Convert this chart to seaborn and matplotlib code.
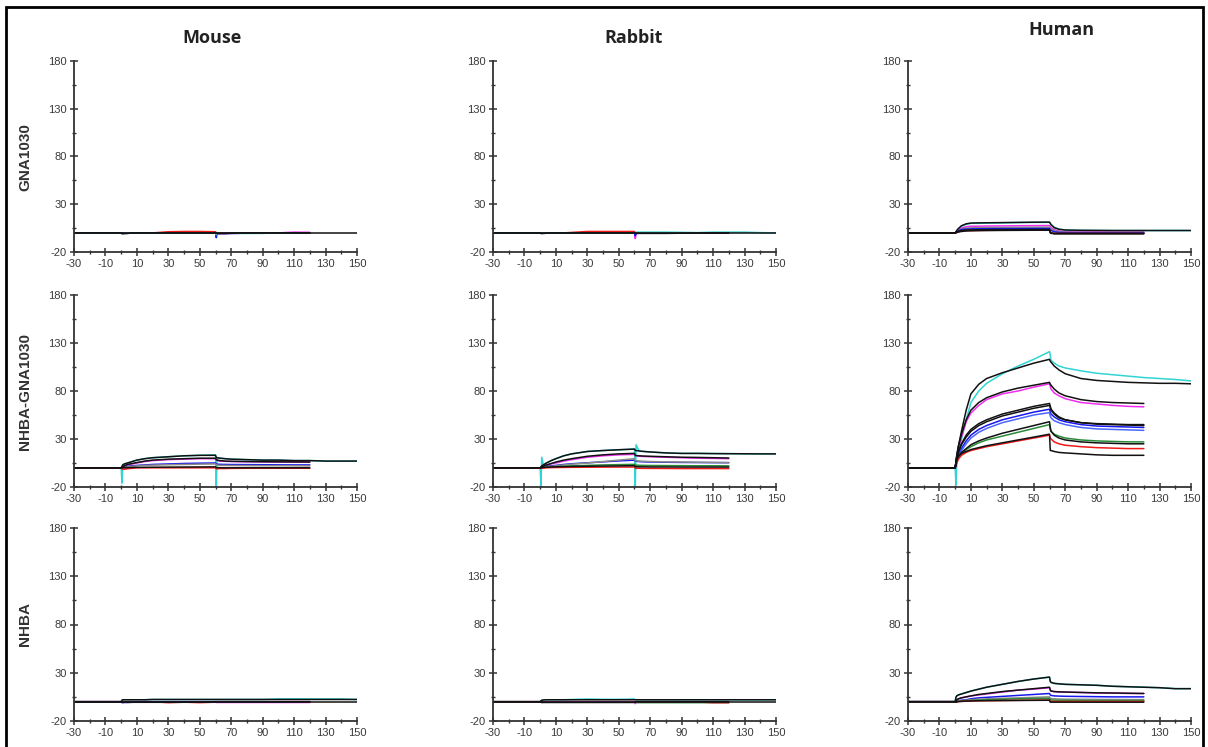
import matplotlib
matplotlib.use('Agg')
import matplotlib.pyplot as plt
from matplotlib.patches import Rectangle
import pandas as pd
import seaborn as sns

# time grid (s) shared by all sensorgrams; long curves run on to 150 s
T_SHORT = [-30, 0, 0.5, 1, 2, 4, 7, 10, 15, 20, 30, 40, 50, 60, 60.5, 61, 63, 66, 70, 80, 90, 100, 110, 120]
T_LONG = T_SHORT + [130, 140, 150]

SPECIES = ['Mouse', 'Rabbit', 'Human']
ANALYTES = ['GNA1030', 'NHBA-GNA1030', 'NHBA']

# --- GNA1030 row ---
mouse_gna = {
    'red': [0, 0, 0, 0, 0, 0, 0, 0, 0, 0, 1.2, 1.5, 1.5, 1.2, 0, 0, 0, 0, 0, 0, 0, 0, 0, 0],
    'blue': [0, 0, 0, 0, 0, 0, 0, 0, 0, 0, 0, 0, 0, 0, -5, -1, -0.6, -0.6, -0.3, 0, 0, 0, 0, 0],
    'magenta': [0, 0, 0, 0, 0, 0, 0, 0, 0, 0, 0, 0, 0, -0.3, -1, -1, -1, -1, -0.8, 0, 0, 0, 0.8, 0.6],
    'cyan': [0, 0, -1.5, -0.8, -0.5, 0, 0, 0, 0, 0, 0, 0, 0, 0, -2, -0.6, -0.6, -0.6, -0.6, -0.6, -0.5, 0, 0, 0],
    'fit_a': [0] * 27,
    'fit_b': [0, 0, -0.5, -0.8, -0.8, -0.6, 0, 0, 0, 0, 0, 0, 0, 0, -0.5, -0.6, -0.6, -0.6, -0.3, 0, 0, 0, 0, 0],
}
rabbit_gna = {
    'red': [0, 0, 0, 0, 0, 0, 0, 0, 0, 0.5, 1.5, 1.5, 1.5, 1.5, 0, 0, 0, 0, 0, 0, 0, 0, 0, 0],
    'magenta': [0, 0, 0, 0, 0, 0, 0, 0, 0, 0, 0, 0, 0, 0, -6, -1, 0, 0, 0, 0, 0, 0, 0, 0],
    'blue': [0, 0, -0.5, -0.5, -0.3, 0, 0, 0, 0, 0, 0, 0, 0, 0, -3, -0.5, 0, 0, 0, 0, 0, 0, 0, 0],
    'cyan': [0, 0, 0, 0, 0, 0, 0, 0, 0, 0, 0, 0, 0, 0, 0.5, 0.8, 0.8, 0.8, 0.8, 0.8, 0.6, 0.3, 0.8, 0.8, 0.8, 0.3, 0],
    'fit_a': [0] * 27,
    'fit_b': [0, 0, -0.6, -0.6, -0.6, -0.3, 0, 0, 0, 0, 0, 0, 0, 0, -0.5, -0.5, -0.5, -0.5, -0.5, -0.5, -0.3, 0, 0, 0],
}
human_gna = {
    'cyan': [0, 0, 1, 2, 4, 7, 9, 10, 10, 10.3, 10.5, 10.8, 11, 11, 10, 9, 6, 4, 3, 2.7, 2.6, 2.5, 2.5, 2.5, 2.5, 2.5, 2.5],
    'magenta': [0, 0, 0.5, 1.2, 3, 5, 6.5, 7, 7, 7.2, 7.3, 7.5, 7.6, 7.7, 6.5, 5.5, 3.5, 2, 1.2, 1, 1, 0.8, 0.8, 0.8],
    'gray': [0, 0, 0.5, 1, 2.5, 4, 5, 5.3, 5.5, 5.6, 5.7, 5.8, 5.9, 6, 5, 4, 2.5, 1.2, 0.8, 0.6, 0.5, 0.5, 0.5, 0.5],
    'blue': [0, 0, 0.3, 0.8, 2, 3.5, 4, 4.2, 4.3, 4.4, 4.5, 4.5, 4.6, 4.6, 3.5, 2.5, 1.2, 0.5, 0.3, 0.2, 0.2, 0.2, 0.2, 0.2],
    'red': [0, 0, 0.2, 0.5, 1, 2, 2.5, 2.5, 2.6, 2.7, 2.8, 2.9, 3, 3, 1, 0, -0.5, -0.5, -0.5, -0.5, -0.5, -0.5, -0.5, -0.5],
    'fit_a': [0, 0, 1.2, 2.5, 4.5, 7.5, 9.5, 10.3, 10.5, 10.6, 10.8, 11, 11.2, 11.3, 10, 8.5, 5.5, 3.8, 3, 2.7, 2.6, 2.5, 2.5, 2.5, 2.5, 2.5, 2.5],
    'fit_b': [0, 0, 0.3, 0.8, 1.5, 2.5, 3, 3.2, 3.3, 3.4, 3.5, 3.5, 3.6, 3.6, 0, -0.5, -0.5, -0.5, -0.5, -0.5, -0.5, -0.5, -0.5, -0.5],
    'fit_c': [0, 0, 0.2, 0.5, 1, 1.5, 2, 2.2, 2.4, 2.5, 2.6, 2.7, 2.8, 2.8, 0.5, 0, -1, -1, -1, -1, -1, -1, -1, -1],
}

# --- NHBA-GNA1030 row ---
mouse_dual = {
    'cyan': [0, 0, -16, 3, 4, 5, 6.5, 8, 9.5, 10.5, 11.5, 12.5, 13, 13.5, -20, 10.5, 10, 9.5, 9, 8.5, 8, 8, 7.5, 7.5, 7, 7, 7],
    'magenta': [0, 0, 0.5, 1, 2, 3, 4, 5, 6.5, 7.5, 8.5, 9, 9.5, 9.5, 8, 7.5, 7, 6.8, 6.5, 6.3, 6.2, 6, 6, 6],
    'blue': [0, 0, 0, 0.5, 1, 1.5, 2, 2.5, 3, 3.5, 4, 4.5, 4.8, 5, 4, 3.8, 3.6, 3.5, 3.4, 3.3, 3.2, 3.1, 3, 3],
    'gray': [0, 0, 0, 0.3, 0.6, 1, 1.5, 2, 2.5, 2.8, 3.2, 3.5, 3.8, 4, 3, 2.8, 2.6, 2.5, 2.4, 2.3, 2.2, 2.2, 2.1, 2],
    'red': [0, 0, -1, -1.5, -1.5, -1, -0.5, 0, 0, 0, 0, 0, 0, 0, -1, -1, -0.8, -0.8, -0.6, -0.5, -0.5, -0.5, -0.5, -0.5],
    'fit_a': [0, 0, 1.5, 3, 4, 5, 6.5, 8, 9.5, 10.5, 11.5, 12.5, 13, 13, 11, 10.5, 10, 9.5, 9, 8.5, 8, 8, 7.5, 7.5, 7, 7, 7],
    'fit_b': [0, 0, 0.5, 1, 2, 3.5, 4.5, 5.5, 7, 8, 9, 9.5, 10, 10, 8.5, 8, 7.5, 7, 6.8, 6.5, 6.3, 6.2, 6.1, 6],
    'fit_c': [0, 0, 0, 0, 0, 0.2, 0.3, 0.4, 0.5, 0.6, 0.7, 0.8, 0.9, 1, 0.2, 0.2, 0.1, 0, 0, 0, 0, 0, 0, 0],
}
rabbit_dual = {
    'cyan': [0, 0, -20, 11, 3, 5, 7.5, 9.5, 12.5, 14.5, 17, 18, 18.8, 19.5, -20, 24, 17.5, 17, 16.5, 15.5, 15, 15, 14.8, 14.7, 14.6, 14.5, 14.5],
    'magenta': [0, 0, 0.5, 1, 1.5, 2.5, 4, 5, 7, 8.5, 11, 12.5, 13.5, 14, 12.5, 12.5, 12, 11.8, 11.5, 11, 10.5, 10, 9.8, 9.5],
    'blue': [0, 0, 0, 0.5, 1, 1.5, 2, 2.5, 3.5, 4.2, 5.2, 6.2, 7.2, 8, 7, 6.8, 6.5, 6.2, 6, 5.8, 5.6, 5.5, 5.4, 5.3],
    'gray': [0, 0, 0, 0.3, 0.6, 1, 1.5, 2, 3, 3.8, 5, 6.5, 8, 9.5, 7.5, 7.2, 7, 6.8, 6.5, 6.2, 6, 5.8, 5.6, 5.5],
    'green': [0, 0, 0, 0, 0.3, 0.6, 1, 1.2, 1.6, 2, 2.5, 3, 3.3, 3.6, 3, 2.8, 2.6, 2.5, 2.4, 2.3, 2.2, 2.1, 2.1, 2],
    'red': [0, 0, -0.5, -0.5, -0.3, 0, 0.2, 0.3, 0.4, 0.5, 0.6, 0.7, 0.8, 0.8, -0.5, -0.5, -0.5, -0.6, -0.6, -0.7, -0.8, -0.8, -0.8, -0.8],
    'fit_a': [0, 0, 1, 2, 3, 5, 7.5, 9.5, 12.5, 14.5, 17, 18, 18.8, 19.5, 18, 18, 17.5, 17, 16.5, 15.5, 15, 15, 14.8, 14.7, 14.6, 14.5, 14.5],
    'fit_b': [0, 0, 0.5, 1, 1.8, 3, 4.5, 6, 8, 9.5, 12, 13.5, 14.5, 15, 13, 12.8, 12.5, 12.2, 12, 11.5, 11, 10.8, 10.5, 10.2],
    'fit_c': [0, 0, 0, 0.2, 0.4, 0.6, 0.8, 1, 1.2, 1.4, 1.6, 1.8, 2, 2.2, 1.2, 1.1, 1, 1, 0.9, 0.9, 0.8, 0.8, 0.8, 0.8],
}
human_dual = {
    'cyan': [0, 0, -18, 4, 14, 30, 50, 68, 80, 88, 98, 106, 113, 121, 117, 112, 109, 106, 104, 101, 98.5, 97, 95.5, 94, 93, 92, 90.5],
    'magenta': [0, 0, 5, 12, 20, 32, 48, 57, 65, 71, 77, 80, 84, 87.5, 85, 82, 78, 75, 72, 68, 66.5, 65, 64, 63.5],
    'blue': [0, 0, 4, 8, 13, 20, 28, 34, 40, 44, 50, 54, 58, 61, 58, 56, 53, 50, 48, 45, 43.5, 43, 42.5, 42],
    'blue2': [0, 0, 3, 7, 12, 18, 25, 31, 37, 41, 47, 51, 55, 57.5, 54, 52, 49, 47, 45, 42, 40.5, 40, 39.5, 39],
    'green': [0, 0, 3, 6, 10, 14, 19, 22, 26, 29, 33, 37, 41, 45, 40, 38, 35, 33, 31, 29, 28, 27.5, 27, 27],
    'red': [0, 0, 2, 5, 9, 13, 16, 18, 20, 22, 25, 28, 31, 34, 31, 30, 27, 25, 23.5, 22, 21, 20.5, 20, 20],
    'fit_a': [0, 0, 6, 12, 22, 38, 60, 77, 87, 93, 99, 104, 109, 113, 111, 110, 106, 102, 98, 93, 91, 90, 89, 88.5, 88, 88, 87.5],
    'fit_b': [0, 0, 6, 13, 22, 35, 50, 60, 68, 73, 79, 83, 86, 89, 87, 86, 82, 78, 75, 71, 69, 68, 67.5, 67],
    'fit_c': [0, 0, 5, 10, 16, 24, 32, 38, 44, 48, 54, 58, 62, 65, 63, 60, 56, 52, 50, 47, 45.5, 45, 44.5, 44],
    'fit_d': [0, 0, 5, 10, 17, 25, 34, 40, 46, 50, 56, 60, 64, 67, 64, 61, 57, 53, 50, 47, 46, 45.5, 45, 45],
    'fit_e': [0, 0, 4, 8, 12, 16, 20, 24, 28, 31, 36, 40, 44, 48, 42, 38, 34, 31, 29, 27, 26, 25.5, 25, 25],
    'fit_f': [0, 0, 5, 9, 12, 15, 17, 19, 21, 23, 26, 29, 32, 35, 18, 18, 17, 16, 15.5, 14.5, 13.5, 13, 13, 13],
}

# --- NHBA row ---
mouse_nhba = {
    'cyan': [0, 0, 1.5, 2, 2, 2, 2, 2, 2, 2.3, 2.3, 2.3, 2.3, 2.3, 2.3, 2.3, 2.3, 2.3, 2.3, 2.3, 2.3, 2.9, 2.9, 2.9, 2.9, 2.9, 2.3],
    'magenta': [0, 0, 0, 0, 0, 0, 0, 0, 0, 0, 0, 0, 0, 0, -0.8, -0.8, -0.8, -0.8, -0.8, -0.8, -0.8, -0.8, -0.8, -0.8],
    'red': [0, 0, 0, 0, 0, 0, 0, 0, 0, 0, -1, -0.5, -1, -0.5, 0, 0, 0, 0, 0, 0, 0, 0, 0, 0],
    'blue': [0, 0, -1, -1, -0.8, -0.8, -0.6, -0.3, 0, 0, 0, 0, 0, 0, 0, 0, 0, 0, 0, 0, 0, 0, 0, 0],
    'fit_base': [0] * 27,
    'fit_a': [0, 0, 1.5, 2, 2, 2, 2, 2, 2, 2.3, 2.3, 2.3, 2.3, 2.3, 2.3, 2.3, 2.3, 2.3, 2.3, 2.3, 2.3, 2.3, 2.3, 2.3, 2.3, 2.3, 2.3],
    'fit_b': [0, 0, -0.5, -0.6, -0.6, -0.6, -0.6, -0.6, -0.6, -0.6, -0.6, -0.6, -0.3, 0, 0, 0, 0, 0, 0, 0, 0, 0, 0, 0],
}
rabbit_nhba = {
    'cyan': [0, 0, 1, 1.5, 1.8, 2, 2, 2, 2, 2.3, 2.8, 2.5, 2.5, 2.8, 2, 2, 2, 2, 2, 2, 2, 2, 2, 2, 2, 2, 2],
    'green': [0, 0, 0, 0, 0, 0, 0, 0, 0, 0, 0, 0, 0, -0.5, -1, -1, -1, -1, -1, -1, -1, -1, -1, -1],
    'red': [0, 0, 0, 0, 0, 0, 0, 0, 0, 0, 0, 0, 0, 0, 0, 0, 0, 0, 0, 0, 0, -0.3, -1, -1],
    'magenta': [0, 0, -0.5, -0.8, -0.5, 0, 0, 0, 0, 0, 0, 0, 0, 0, -2, -0.5, 0, 0, 0, 0, 0, 0, 0, 0],
    'fit_base': [0] * 27,
    'fit_a': [0, 0, 1, 1.5, 1.8, 2, 2, 2, 2, 2, 2, 2, 2, 2, 2, 2, 2, 2, 2, 2, 2, 2, 2, 2, 2, 2, 2],
    'fit_b': [0, 0, -0.6, -0.8, -0.8, -0.8, -0.8, -0.8, -0.8, -0.8, -0.8, -0.8, -0.8, -0.8, -0.2, 0, 0, 0, 0, 0, 0, 0, 0, 0],
}
human_nhba = {
    'cyan': [0, 0, 5, 6, 7, 8, 9.5, 11, 13, 15, 18, 21, 23.5, 25.5, 21, 20, 19, 18.5, 18, 17.5, 17, 16, 15.5, 15, 14.5, 13.5, 13.5],
    'magenta': [0, 0, 1, 2, 3, 4, 5, 6, 7, 8, 10, 12, 13, 14.5, 12, 11, 10.5, 10, 10, 9.5, 9, 9, 8.5, 8.5],
    'blue': [0, 0, 0, 0.5, 1, 1.5, 2, 3, 4, 4.5, 5.5, 6.5, 7.5, 8.5, 7, 6.5, 6, 5.8, 5.6, 5.4, 5.2, 5, 5, 5],
    'gray': [0, 0, 0, 0.3, 0.6, 1, 1.5, 2, 2.5, 3, 3.5, 4, 4.5, 5, 3.5, 3.2, 3, 2.8, 2.6, 2.5, 2.4, 2.3, 2.2, 2.2],
    'green': [0, 0, 0, 0.2, 0.5, 0.8, 1, 1.3, 1.6, 2, 2.5, 3, 3.3, 3.6, 2, 1.8, 1.6, 1.5, 1.4, 1.3, 1.2, 1.2, 1.2, 1.2],
    'red': [0, 0, -0.5, -0.5, 0, 0.3, 0.5, 0.7, 0.9, 1, 1.2, 1.4, 1.6, 1.8, 0.5, 0.3, 0.2, 0.2, 0.2, 0.2, 0.2, 0.2, 0.2, 0.2],
    'fit_a': [0, 0, 4.5, 6, 7, 8, 9.5, 11, 13, 15, 18, 21, 23.5, 25.5, 21, 20, 19, 18.5, 18, 17.5, 17, 16, 15.5, 15, 14.5, 13.5, 13.5],
    'fit_b': [0, 0, 1, 2, 3, 4, 5, 6, 7.5, 8.5, 10.5, 12, 13.5, 15, 12, 11, 10.5, 10.2, 10, 9.6, 9.2, 9, 8.8, 8.5],
    'fit_c': [0, 0, -0.5, 0, 0.2, 0.4, 0.6, 0.8, 1, 1.1, 1.2, 1.3, 1.4, 1.5, -0.5, -0.5, -0.5, -0.5, -0.5, -0.5, -0.5, -0.5, -0.5, -0.5],
}

PANELS = [
    [mouse_gna, rabbit_gna, human_gna],
    [mouse_dual, rabbit_dual, human_dual],
    [mouse_nhba, rabbit_nhba, human_nhba],
]

COLORS = {
    'cyan': '#30d4d4', 'magenta': '#f02cf0', 'blue': '#1818ee', 'blue2': '#4a66ff',
    'green': '#2a8a3a', 'red': '#ee1a1a', 'gray': '#8a8a8a', 'fit': '#111111',
}

sns.set_style('ticks')
plt.rcParams['font.family'] = ['Liberation Sans', 'DejaVu Sans']
plt.rcParams['axes.unicode_minus'] = False

W, H = 1208, 747
fig = plt.figure(figsize=(W / 100, H / 100), dpi=100)

col_x = [74, 493, 908]
row_y = [(61, 252), (295, 487), (528, 721)]
AX_W = 283
AXIS_COLOR = '#333333'

for r, row in enumerate(PANELS):
    for c, curves in enumerate(row):
        top, bot = row_y[r]
        ax = fig.add_axes([col_x[c] / W, 1 - bot / H, AX_W / W, (bot - top) / H])

        frames = []
        for name, vals in curves.items():
            t = T_LONG if len(vals) == len(T_LONG) else T_SHORT
            frames.append(pd.DataFrame({'time': t, 'response': vals, 'curve': name}))
        df = pd.concat(frames, ignore_index=True)
        pal = {name: COLORS[name.split('_')[0]] for name in curves}

        sns.lineplot(data=df, x='time', y='response', hue='curve', hue_order=list(curves),
                     palette=pal, estimator=None, sort=False, legend=False,
                     linewidth=1.1, ax=ax)

        ax.set_xlim(-30, 150)
        ax.set_ylim(-20, 180)
        ax.set_xticks(range(-30, 151, 20))
        ax.set_xticks(range(-20, 151, 20), minor=True)
        ax.set_yticks(range(-20, 181, 50))
        ax.set_yticks([5, 55, 105, 155], minor=True)
        ax.set_xlabel('')
        ax.set_ylabel('')
        ax.patch.set_alpha(0)
        for side in ['top', 'right']:
            ax.spines[side].set_visible(False)
        for side in ['left', 'bottom']:
            ax.spines[side].set_color(AXIS_COLOR)
            ax.spines[side].set_linewidth(1.3)
        ax.tick_params(which='both', bottom=True, left=True, top=False, right=False)
        ax.tick_params(which='major', direction='inout', length=6, width=1.1,
                       color=AXIS_COLOR, labelsize=8, labelcolor='#3a3a3a', pad=2)
        ax.tick_params(which='minor', direction='inout', length=3.5, width=1.0,
                       color=AXIS_COLOR)

# column titles
title_pos = [(212, 38), (634, 38), (1061, 30)]
for name, (x, y) in zip(SPECIES, title_pos):
    fig.text(x / W, 1 - y / H, name, ha='center', va='center', fontsize=13,
             fontweight='bold', family=['Open Sans', 'DejaVu Sans'], color='#222222')

# row labels
row_label_y = [157, 392, 624]
for name, y in zip(ANALYTES, row_label_y):
    fig.text(25 / W, 1 - y / H, name, ha='center', va='center', rotation=90,
             fontsize=11, fontweight='bold', color='#333333')

# outer frame
fig.patches.append(Rectangle((6 / W, -0.02), 1197 / W, 1.02 - 7 / H, transform=fig.transFigure,
                             fill=False, edgecolor='black', linewidth=2))

fig.savefig('out.png', dpi=100)
